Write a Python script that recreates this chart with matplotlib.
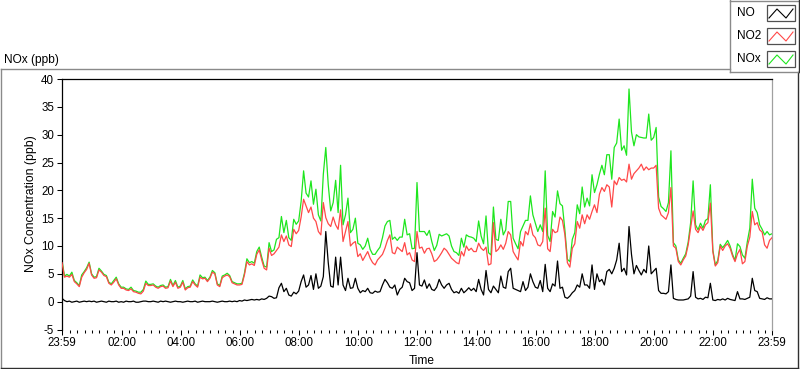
import numpy as np
import matplotlib.pyplot as plt
import matplotlib.lines as mlines
import matplotlib.patches as mpatches

plt.rcParams['font.family'] = ['Liberation Sans', 'DejaVu Sans']
plt.rcParams['font.size'] = 8
plt.rcParams['axes.unicode_minus'] = False

# 5 minute samples starting 23:59 (previous day), one row per hour
step_min = 5

no2 = [
    7.0, 4.4, 4.6, 4.4, 4.9, 3.6, 3.2, 2.7, 4.4, 5.2, 5.8, 6.9,
    4.8, 4.2, 4.3, 5.7, 5.3, 4.7, 4.5, 3.3, 3.0, 3.5, 4.1, 3.0,
    2.4, 2.4, 2.1, 2.0, 2.3, 1.8, 1.7, 1.5, 1.4, 1.9, 3.3, 2.9,
    2.9, 3.0, 2.6, 2.4, 2.7, 2.8, 2.4, 2.5, 3.7, 2.7, 3.5, 2.4,
    2.6, 3.5, 2.1, 2.5, 2.6, 3.6, 3.0, 2.6, 4.4, 4.1, 4.2, 3.6,
    4.2, 5.3, 5.0, 3.0, 2.7, 4.3, 4.6, 4.8, 4.5, 3.4, 3.2, 3.0,
    3.0, 3.1, 4.8, 7.2, 6.6, 6.8, 6.5, 8.5, 9.3, 7.5, 6.0, 5.7,
    9.6, 8.3, 8.6, 9.2, 9.8, 12.0, 10.8, 11.8, 10.2, 9.9, 13.0, 12.2,
    12.8, 15.2, 18.4, 17.2, 16.0, 17.0, 15.0, 14.4, 12.6, 12.0, 17.8, 15.1,
    14.0, 13.5, 15.2, 13.8, 13.0, 16.5, 10.8, 12.6, 14.4, 10.0, 10.5, 10.8,
    8.1, 8.6, 7.4, 8.2, 9.0, 7.8, 7.0, 6.6, 7.5, 8.0, 8.5, 9.6,
    11.0, 12.0, 8.8, 8.6, 9.8, 9.4, 9.0, 10.6, 8.4, 8.8, 7.5, 7.2,
    12.6, 9.6, 9.8, 8.7, 9.5, 9.6, 8.6, 7.2, 7.5, 8.1, 8.8, 9.6,
    9.2, 8.5, 7.8, 7.4, 7.0, 6.8, 9.0, 8.2, 10.0, 9.2, 9.6, 9.0,
    9.0, 10.5, 9.6, 9.2, 9.8, 6.6, 6.8, 14.2, 9.0, 9.4, 10.2, 9.4,
    10.5, 12.6, 12.0, 9.0, 8.2, 7.5, 10.8, 10.0, 12.6, 12.0, 14.0, 12.0,
    11.5, 10.2, 10.0, 10.8, 16.8, 9.5, 9.0, 13.0, 12.4, 12.6, 15.2, 14.6,
    12.0, 7.0, 6.2, 9.6, 10.4, 14.4, 13.2, 15.6, 14.0, 15.6, 14.8, 16.2,
    17.4, 16.0, 19.3, 20.5, 19.8, 21.0, 20.6, 17.0, 21.7, 21.0, 22.3, 21.8,
    22.0, 21.5, 24.7, 22.0, 23.0, 23.5, 24.0, 24.7, 23.6, 24.2, 23.7, 24.0,
    24.0, 24.5, 16.8, 15.6, 15.2, 14.8, 16.0, 20.5, 10.0, 9.6, 7.2, 6.6,
    7.5, 8.2, 10.2, 13.2, 16.3, 13.0, 12.4, 13.5, 12.8, 13.8, 14.2, 17.7,
    9.0, 6.4, 7.0, 10.0, 9.2, 10.0, 10.4, 9.6, 8.2, 7.2, 8.6, 9.4,
    6.8, 7.2, 10.0, 11.6, 16.2, 13.8, 14.2, 12.9, 12.5, 10.2, 9.6, 11.0,
    11.5,
]

no = [
    0.6, 0.2, 0.0, 0.1, -0.1, 0.0, 0.1, -0.1, 0.0, 0.1, 0.0, 0.1,
    0.0, 0.1, -0.1, 0.0, 0.1, 0.0, -0.1, 0.1, 0.0, 0.0, 0.1, -0.1,
    0.0, -0.1, 0.1, 0.0, 0.0, 0.1, -0.1, -0.1, 0.0, 0.1, 0.1, 0.0,
    0.0, 0.1, 0.0, -0.1, 0.1, 0.0, 0.1, 0.0, -0.1, 0.0, 0.1, 0.0,
    0.0, -0.1, 0.0, 0.1, 0.0, 0.0, 0.1, -0.1, 0.0, 0.1, 0.0, 0.0,
    0.0, 0.1, 0.0, -0.1, 0.0, 0.1, 0.0, 0.0, 0.1, 0.0, 0.1, 0.0,
    0.2, 0.1, 0.3, 0.2, 0.3, 0.4, 0.3, 0.4, 0.3, 0.5, 0.4, 0.6,
    1.0, 0.9, 0.6, 0.7, 2.5, 3.3, 1.8, 2.4, 1.2, 1.0, 1.7, 1.4,
    1.9, 3.6, 4.8, 2.6, 3.0, 4.7, 2.2, 5.0, 2.4, 2.8, 4.5, 12.6,
    7.0, 2.8, 2.6, 8.0, 3.0, 8.0, 3.0, 2.0, 4.2, 2.4, 2.5, 4.2,
    2.4, 1.6, 2.0, 1.8, 2.4, 1.6, 1.5, 1.9, 1.7, 1.8, 3.0, 4.0,
    3.4, 2.6, 2.4, 3.0, 1.2, 2.2, 2.6, 4.2, 3.6, 3.4, 2.0, 2.4,
    8.8, 3.0, 2.8, 3.9, 2.4, 3.2, 2.2, 2.0, 2.6, 4.0, 3.0, 2.4,
    3.0, 3.3, 2.2, 1.6, 1.8, 1.5, 2.4, 1.6, 2.0, 2.5, 2.0, 2.4,
    1.8, 4.0, 2.2, 1.2, 5.6, 2.2, 1.6, 2.8, 2.2, 1.6, 4.6, 2.6,
    2.4, 5.4, 6.0, 2.4, 2.2, 2.0, 1.8, 3.6, 2.0, 2.6, 5.0, 3.6,
    2.6, 2.4, 3.8, 1.8, 6.7, 2.4, 1.8, 3.2, 2.8, 7.3, 2.4, 2.6,
    0.8, 0.6, 1.0, 1.6, 2.0, 3.0, 2.6, 5.0, 3.0, 3.0, 2.4, 6.6,
    2.2, 5.0, 3.6, 4.0, 3.0, 5.4, 5.8, 5.0, 6.0, 7.5, 10.5, 5.4,
    6.0, 4.8, 13.5, 8.5, 5.0, 6.5, 5.6, 4.8, 5.8, 5.2, 10.0, 5.0,
    5.5, 6.0, 2.0, 1.5, 1.5, 1.4, 1.8, 6.6, 0.6, 0.4, 0.3, 0.3,
    0.3, 0.4, 0.5, 1.0, 5.4, 0.8, 0.5, 0.6, 0.4, 0.8, 0.7, 3.3,
    0.3, 0.2, 0.4, 0.3, 0.5, 0.3, 0.6, 0.4, 0.3, 0.2, 1.8, 0.5,
    0.5, 0.4, 0.6, 0.8, 4.2, 2.0, 1.8, 0.6, 0.5, 0.4, 0.7, 0.5,
    0.5,
]

nox = [
    7.4, 4.6, 4.9, 4.6, 5.3, 3.8, 3.4, 2.9, 4.8, 5.4, 6.1, 7.1,
    5.0, 4.4, 4.5, 6.0, 5.5, 4.9, 4.7, 3.5, 3.2, 3.8, 4.4, 3.2,
    2.6, 2.6, 2.3, 2.2, 2.6, 2.0, 1.9, 1.7, 1.7, 2.2, 3.7, 3.1,
    3.1, 3.2, 2.8, 2.6, 2.9, 3.0, 2.6, 2.7, 4.0, 2.9, 3.8, 2.6,
    2.8, 3.8, 2.3, 2.7, 2.8, 3.9, 3.2, 2.8, 4.8, 4.3, 4.4, 3.8,
    4.4, 5.6, 5.2, 3.2, 2.9, 4.6, 4.8, 5.1, 4.7, 3.6, 3.4, 3.2,
    3.2, 3.3, 5.1, 7.7, 7.0, 7.2, 6.9, 9.0, 9.8, 8.0, 6.4, 6.2,
    10.6, 9.0, 9.3, 11.2, 11.5, 15.3, 12.4, 14.6, 11.5, 11.0, 14.8, 13.9,
    14.5, 18.0, 23.5, 19.5, 18.8, 21.7, 17.5, 20.2, 15.6, 14.5, 22.9, 27.7,
    21.0, 16.3, 17.8, 21.8, 16.0, 24.5, 13.8, 15.6, 18.6, 12.4, 13.0, 15.0,
    10.5, 10.2, 9.4, 10.0, 11.4, 9.4, 8.5, 8.5, 9.2, 9.8, 11.5, 13.6,
    14.4, 14.6, 11.2, 11.6, 11.0, 11.6, 11.6, 14.8, 12.0, 12.2, 9.5, 9.6,
    21.4, 12.6, 12.6, 12.6, 11.9, 12.8, 10.8, 9.2, 10.1, 12.1, 11.8, 12.0,
    12.2, 11.8, 10.0, 9.0, 8.8, 8.3, 11.4, 9.8, 12.0, 11.7, 11.6, 11.4,
    10.8, 14.5, 11.8, 10.4, 15.4, 8.8, 8.4, 17.0, 11.2, 11.0, 14.8, 12.0,
    12.9, 18.0, 18.0, 11.4, 10.4, 9.5, 12.6, 13.6, 14.6, 14.6, 19.0, 15.6,
    14.1, 12.6, 13.8, 12.6, 23.5, 11.9, 10.8, 16.2, 15.2, 19.9, 17.6, 17.2,
    12.8, 7.6, 7.2, 11.2, 12.4, 17.4, 15.8, 20.6, 17.0, 18.6, 17.2, 22.8,
    19.6, 21.0, 22.9, 24.5, 22.8, 26.4, 26.4, 22.0, 27.7, 28.5, 32.8, 27.2,
    28.0, 26.3, 38.2, 30.5, 28.0, 30.0, 29.6, 29.5, 29.4, 29.4, 33.7, 29.0,
    29.5, 31.3, 18.8, 17.1, 16.7, 16.2, 17.8, 27.1, 10.6, 10.0, 7.5, 6.9,
    7.8, 8.6, 10.7, 14.2, 21.7, 13.8, 12.9, 14.1, 13.2, 14.6, 14.9, 21.0,
    9.3, 6.6, 7.4, 10.3, 9.7, 10.3, 11.0, 10.0, 8.5, 7.4, 10.4, 9.9,
    8.4, 7.8, 10.8, 13.2, 22.0, 16.8, 16.0, 13.8, 13.0, 12.0, 12.6, 12.0,
    12.2,
]

tick_labels = ["23:59", "02:00", "04:00", "06:00", "08:00", "10:00", "12:00",
               "14:00", "16:00", "18:00", "20:00", "22:00", "23:59"]
y_ticks = [-5, 0, 5, 10, 15, 20, 25, 30, 35, 40]
series_names = ["NO", "NO2", "NOx"]
series_colors = ["black", "#ff4848", "#1ee61e"]

W, H = 800, 369
hours = np.arange(len(no2)) * step_min / 60.0


def fx(x):
    return x / W


def fy(y):
    return 1 - y / H


# hours since the first sample (23:59)
def label_pos(i, lab):
    if i == len(tick_labels) - 1:
        return 24.0
    hh, mm = lab.split(":")
    return ((int(hh) * 60 + int(mm) - (23 * 60 + 59)) % 1440) / 60.0


major_pos = [label_pos(i, lab) for i, lab in enumerate(tick_labels)]
minor_pos = [(k * 15 + 1) / 60.0 for k in range(1, 96) if k % 8 != 0]

fig = plt.figure(figsize=(W / 100, H / 100), dpi=100)

ax = fig.add_axes([fx(62), fy(329.5), (772 - 62) / W, (329.5 - 79) / H])
ax.plot(hours, nox, color=series_colors[2], lw=0.9, zorder=2)
ax.plot(hours, no2, color=series_colors[1], lw=0.9, zorder=3)
ax.plot(hours, no, color=series_colors[0], lw=0.9, zorder=4)

ax.set_xlim(0, 24)
ax.set_ylim(-5, 40)
ax.set_yticks(y_ticks)
ax.set_xticks(major_pos)
ax.set_xticklabels(tick_labels)
ax.set_xticks(minor_pos, minor=True)
ax.tick_params(axis='both', which='major', direction='out', length=3.6, width=0.75, pad=2,
               colors='black', labelsize=8.3)
ax.tick_params(axis='x', which='minor', direction='out', length=2.4, width=0.75)

ax.spines['left'].set_color('black')
ax.spines['top'].set_color('black')
ax.spines['right'].set_color('#a0a0a0')
ax.spines['bottom'].set_visible(False)
for s in ax.spines.values():
    s.set_linewidth(0.9)

# texts
fig.text(fx(4), fy(60), "NOx (ppb)", ha='left', va='center', fontsize=8.6)
fig.text(fx(31), fy(204), "NOx Concentration (ppb)", rotation=90, ha='center', va='center', fontsize=8.8)
fig.text(fx(422), fy(361), "Time", ha='center', va='center', fontsize=8.6)


def fig_line(x0, y0, x1, y1, color, lw=1.0):
    fig.add_artist(mlines.Line2D([fx(x0), fx(x1)], [fy(y0), fy(y1)], color=color,
                                 lw=lw, transform=fig.transFigure))


# outer frame of the graph
fig_line(1, 69, 730, 69, '#8a8a8a')
fig_line(1, 69, 1, 368, '#8a8a8a')
fig_line(1, 367.5, 798, 367.5, '#303030')
fig_line(798, 72, 798, 368, '#303030')

# legend box
fig_line(730, 0.5, 799, 0.5, '#8a8a8a')
fig_line(730, 0, 730, 72, '#8a8a8a')
fig_line(730, 72, 799, 72, '#8a8a8a')
fig_line(799, 0, 799, 72, '#303030')

legend_y = [13, 36, 59]
for name, col, yc in zip(series_names, series_colors, legend_y):
    fig.text(fx(737), fy(yc), name, ha='left', va='center', fontsize=8.6)
    box = mpatches.Rectangle((fx(767), fy(yc + 8)), 28 / W, 16 / H, transform=fig.transFigure,
                             facecolor='white', edgecolor='#505050', lw=0.9)
    fig.add_artist(box)
    zx = [769, 777, 786, 793]
    zy = [yc + 5, yc - 4, yc + 5, yc - 4]
    fig.add_artist(mlines.Line2D([fx(v) for v in zx], [fy(v) for v in zy], color=col,
                                 lw=0.8, transform=fig.transFigure))

fig.savefig("out.png", dpi=100)
